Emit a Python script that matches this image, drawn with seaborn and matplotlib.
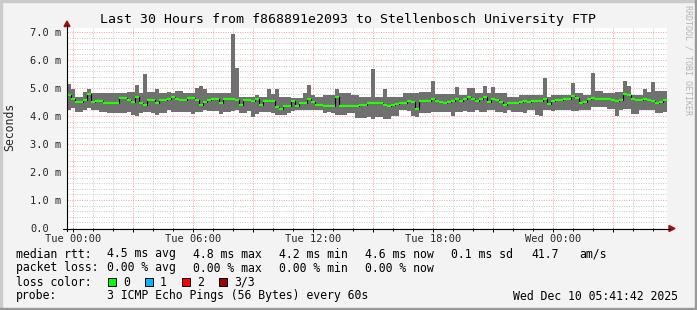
import numpy as np
import pandas as pd
import matplotlib
matplotlib.use("Agg")
import matplotlib.pyplot as plt
import seaborn as sns
from matplotlib.ticker import MultipleLocator, FuncFormatter
from matplotlib.patches import Rectangle, Polygon

sns.set_theme(style="white")
plt.rcParams["font.family"] = ["DejaVu Sans Mono", "DejaVu Sans"]

# ---------------- data ----------------
title = "Last 30 Hours from f868891e2093 to Stellenbosch University FTP"
x_tick_hours = [0, 6, 12, 18, 24]
x_tick_labels = ["Tue 00:00", "Tue 06:00", "Tue 12:00", "Tue 18:00", "Wed 00:00"]
y_ticks = [0, 1, 2, 3, 4, 5, 6, 7]
y_tick_labels = ["0.0", "1.0 m", "2.0 m", "3.0 m", "4.0 m", "5.0 m", "6.0 m", "7.0 m"]
start_hour = -0.305      # hours relative to Tue 00:00
step_hours = 0.2         # 12 minute consolidation

median_ms = [
    4.75, 4.6, 4.5, 4.5, 4.58, 4.77, 4.5, 4.55, 4.55, 4.47,
    4.45, 4.45, 4.45, 4.63, 4.63, 4.57, 4.5, 4.69, 4.47, 4.4,
    4.57, 4.57, 4.47, 4.57, 4.57, 4.62, 4.69, 4.6, 4.57, 4.57,
    4.65, 4.65, 4.57, 4.4, 4.5, 4.57, 4.6, 4.6, 4.48, 4.62,
    4.6, 4.6, 4.57, 4.4, 4.57, 4.57, 4.55, 4.6, 4.39, 4.55,
    4.55, 4.55, 4.31, 4.24, 4.36, 4.36, 4.55, 4.36, 4.45, 4.45,
    4.6, 4.5, 4.4, 4.4, 4.36, 4.36, 4.36, 4.67, 4.36, 4.36,
    4.36, 4.36, 4.36, 4.4, 4.4, 4.45, 4.48, 4.48, 4.45, 4.4,
    4.36, 4.4, 4.42, 4.45, 4.48, 4.52, 4.5, 4.24, 4.52, 4.52,
    4.55, 4.6, 4.55, 4.5, 4.45, 4.5, 4.55, 4.6, 4.55, 4.6,
    4.68, 4.62, 4.55, 4.6, 4.68, 4.5, 4.6, 4.57, 4.5, 4.4,
    4.45, 4.47, 4.47, 4.5, 4.52, 4.5, 4.52, 4.52, 4.55, 4.6,
    4.42, 4.52, 4.57, 4.57, 4.6, 4.6, 4.72, 4.65, 4.45, 4.5,
    4.6, 4.65, 4.62, 4.6, 4.6, 4.6, 4.57, 4.55, 4.57, 4.8,
    4.75, 4.6, 4.57, 4.57, 4.6, 4.57, 4.55, 4.47, 4.5, 4.58,
]
high_ms = [
    5.14, 4.98, 4.69, 4.69, 4.87, 4.98, 4.81, 4.83, 4.83, 4.83,
    4.83, 4.83, 4.83, 4.83, 4.83, 4.87, 4.87, 5.1, 4.81, 5.5,
    4.87, 4.87, 4.98, 4.81, 4.81, 4.87, 4.83, 4.9, 4.9, 4.81,
    4.81, 4.81, 4.99, 5.07, 4.95, 4.81, 4.81, 4.81, 4.81, 4.81,
    4.81, 6.93, 5.71, 4.69, 4.69, 4.69, 4.69, 4.75, 4.69, 4.69,
    4.95, 4.79, 4.95, 4.69, 4.69, 4.69, 4.63, 4.63, 4.63, 4.81,
    5.09, 4.75, 4.69, 4.69, 4.75, 4.75, 4.75, 4.95, 4.81, 4.81,
    4.81, 4.75, 4.75, 4.69, 4.69, 4.69, 5.68, 4.69, 4.69, 4.98,
    4.69, 4.69, 4.69, 4.69, 4.81, 4.81, 4.81, 4.81, 4.87, 4.87,
    4.87, 5.26, 4.79, 4.79, 4.79, 4.79, 4.79, 5.02, 4.75, 4.75,
    5.0, 5.0, 4.83, 4.83, 5.07, 4.81, 5.02, 4.81, 4.81, 4.81,
    4.69, 4.69, 4.69, 4.75, 4.75, 4.75, 4.75, 4.75, 4.75, 5.36,
    4.69, 4.75, 4.75, 4.75, 4.75, 4.75, 5.19, 4.81, 4.81, 4.75,
    4.75, 5.54, 4.9, 4.9, 4.81, 4.81, 4.81, 4.87, 4.87, 5.26,
    5.07, 4.75, 4.75, 4.75, 4.97, 4.87, 5.2, 4.9, 4.9, 4.9,
]
low_ms = [
    4.2, 4.3, 4.15, 4.15, 4.2, 4.3, 4.2, 4.2, 4.15, 4.15,
    4.12, 4.12, 4.1, 4.1, 4.12, 4.15, 4.03, 4.0, 4.1, 4.15,
    4.15, 4.1, 4.05, 4.1, 4.1, 4.2, 4.15, 4.15, 4.15, 4.15,
    4.15, 4.07, 4.15, 4.15, 4.2, 4.18, 4.18, 4.18, 4.07, 4.15,
    4.15, 4.18, 4.2, 4.1, 4.1, 4.18, 3.95, 4.07, 4.15, 4.15,
    4.15, 4.1, 4.05, 4.05, 4.05, 4.1, 4.18, 4.2, 4.22, 4.2,
    4.2, 4.2, 4.2, 4.2, 4.1, 4.15, 4.1, 4.04, 4.04, 4.04,
    4.1, 4.1, 3.92, 3.92, 3.92, 3.95, 3.88, 3.95, 3.95, 3.88,
    3.88, 4.0, 4.0, 4.2, 4.2, 4.18, 4.0, 3.98, 4.1, 4.1,
    4.1, 4.15, 4.15, 4.15, 4.15, 4.15, 4.0, 4.15, 4.15, 4.18,
    4.15, 4.15, 4.2, 4.15, 4.15, 4.22, 4.22, 4.15, 4.15, 4.1,
    4.21, 4.15, 4.15, 4.15, 4.12, 4.2, 4.2, 4.04, 4.0, 4.2,
    4.2, 4.18, 4.2, 4.2, 4.2, 4.2, 4.18, 4.18, 4.2, 4.2,
    4.2, 4.31, 4.31, 4.31, 4.31, 4.25, 4.25, 4.0, 4.2, 4.25,
    4.25, 4.07, 4.07, 4.2, 4.2, 4.2, 4.2, 4.1, 4.1, 4.15,
]

legend_rows = [
    [(16, "median rtt:"), (107, "4.5 ms avg"), (193, "4.8 ms max"), (279, "4.2 ms min"),
     (365, "4.6 ms now"), (451, "0.1 ms sd"), (531, "41.7"), (579, "am/s")],
    [(16, "packet loss:"), (107, "0.00 % avg"), (193, "0.00 % max"), (279, "0.00 % min"),
     (365, "0.00 % now")],
    [(16, "loss color:"), (123, "0"), (160, "1"), (197, "2"), (234, "3/3")],
    [(16, "probe:"), (107, "3 ICMP Echo Pings (56 Bytes) every 60s"), (513, "Wed Dec 10 05:41:42 2025")],
]
loss_colors = ["#00ff00", "#00b8ff", "#ff0000", "#a00000"]
loss_box_x = [108, 145, 182, 219]

# ---------------- figure ----------------
W, H = 697, 310
fig = plt.figure(figsize=(W / 100, H / 100), dpi=100, facecolor="#f3f3f3")
ax = fig.add_axes([67 / W, (H - 228) / H, 600 / W, 200 / H])
ax.set_facecolor("white")

n = len(median_ms)
df = pd.DataFrame({
    "t": start_hour + step_hours * np.arange(n),
    "median": median_ms, "low": low_ms, "high": high_ms,
})

ax.bar(df["t"], df["high"] - df["low"], bottom=df["low"], width=step_hours,
       align="edge", color="#707070", linewidth=0, zorder=3)

step_x = np.append(df["t"].values, df["t"].values[-1] + step_hours)
step_y = np.append(df["median"].values, df["median"].values[-1])
sns.lineplot(x=step_x, y=step_y, drawstyle="steps-post", color="black",
             lw=0.8, ax=ax, zorder=4, errorbar=None)
ax.hlines(df["median"], df["t"], df["t"] + step_hours, color="#22ff00",
          lw=1.6, zorder=5)

ax.set_xlim(start_hour, start_hour + 30)
ax.set_ylim(0, 200 / 28)

ax.xaxis.set_major_locator(MultipleLocator(3))
ax.xaxis.set_minor_locator(MultipleLocator(1))
ax.yaxis.set_major_locator(MultipleLocator(1))
ax.yaxis.set_minor_locator(MultipleLocator(0.2))
xlab = dict(zip(x_tick_hours, x_tick_labels))
ylab = dict(zip(y_ticks, y_tick_labels))
ax.xaxis.set_major_formatter(FuncFormatter(lambda v, p: xlab.get(int(round(v)), "")))
ax.yaxis.set_major_formatter(FuncFormatter(lambda v, p: ylab.get(int(round(v)), "")))

ax.set_axisbelow(True)
ax.grid(which="minor", color="#c8c8c8", ls=(0, (1, 1.5)), lw=0.7)
ax.grid(which="major", color="#ff9a9a", ls=(0, (1, 1.5)), lw=0.7)
for s in ax.spines.values():
    s.set_visible(False)
ax.tick_params(axis="x", which="major", length=3, width=0.7, color="black",
               direction="out", pad=1.5, labelsize=7.5, bottom=True)
ax.tick_params(axis="x", which="minor", length=2, width=0.7, color="black",
               direction="out", bottom=True)
ax.tick_params(axis="y", which="both", length=0, pad=26.6, labelsize=7.5)
for lab in ax.get_yticklabels():
    lab.set_horizontalalignment("left")
ax.set_xlabel("")
ax.set_ylabel("")

# ---------------- overlay (frame, axes, texts) ----------------
ov = fig.add_axes([0, 0, 1, 1], zorder=10)
ov.set_xlim(0, W)
ov.set_ylim(H, 0)
ov.axis("off")
ov.patch.set_alpha(0)

ov.add_patch(Rectangle((0, 0), W, 2, color="#cbcbcb"))
ov.add_patch(Rectangle((0, 0), 2, H, color="#cbcbcb"))
ov.add_patch(Rectangle((0, H - 2), W, 2, color="#999999"))
ov.add_patch(Rectangle((W - 2, 0), 2, H, color="#999999"))

ov.plot([67, 67], [231, 25], color="black", lw=0.8)
ov.plot([63, 670], [228.5, 228.5], color="black", lw=0.8)
ov.add_patch(Polygon([(64, 26.5), (70, 26.5), (67, 21)], closed=True, color="#a01010"))
ov.add_patch(Polygon([(669, 225.5), (669, 231.5), (675, 228.5)], closed=True, color="#a01010"))

ov.text(348, 19, title, ha="center", va="center", fontsize=9.5, color="black")
ov.text(10, 127, "Seconds", rotation=90, ha="center", va="center", fontsize=8.3)
ov.text(688, 60, "RRDTOOL / TOBI OETIKER", rotation=270, ha="center", va="center",
        fontsize=6, color="#b4b4b4")

row_y = [254, 268, 282, 296]
for yy, row in zip(row_y, legend_rows):
    for xx, txt in row:
        ov.text(xx, yy, txt, ha="left", va="center", fontsize=8.3, color="black")
for bx, c in zip(loss_box_x, loss_colors):
    ov.add_patch(Rectangle((bx, 278), 8, 8, facecolor=c, edgecolor="black", lw=0.7))

fig.savefig("out.png", dpi=100, facecolor=fig.get_facecolor())
